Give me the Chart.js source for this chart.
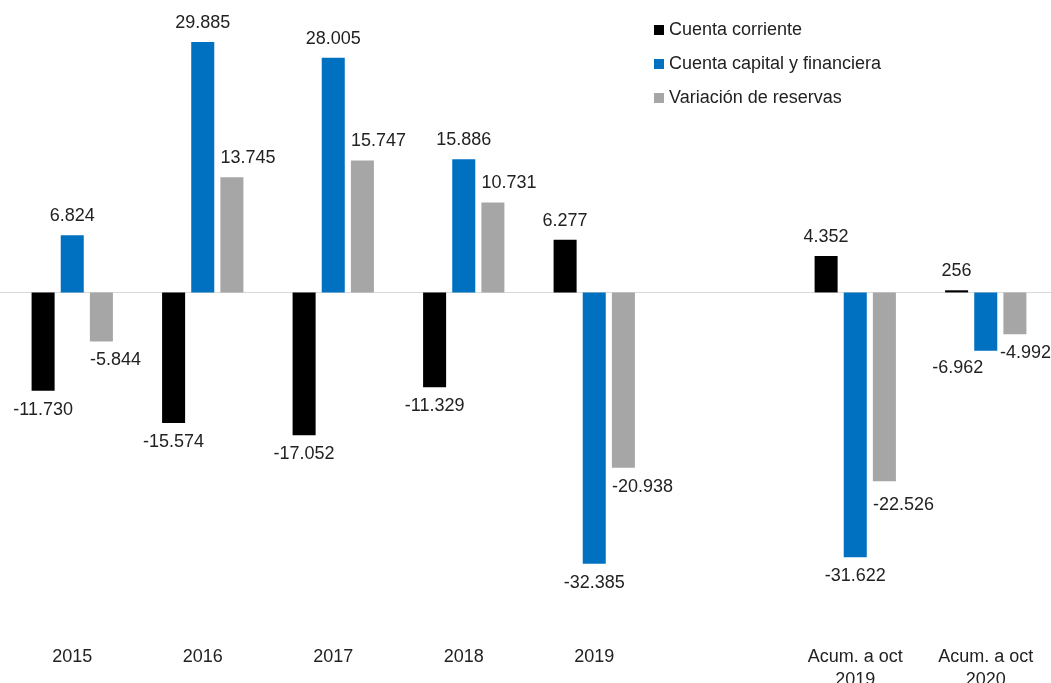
<!DOCTYPE html>
<html>
<head>
<meta charset="utf-8">
<script src="https://cdn.jsdelivr.net/npm/chart.js@4.4.0/dist/chart.umd.min.js"></script>
<style>
  html, body { margin: 0; padding: 0; background: #ffffff; overflow: hidden; }
  #c { position: absolute; left: 0; top: 0; width: 1051px; height: 701px; }
</style>
</head>
<body>
<canvas id="c" width="1051" height="701"></canvas>
<script>
const categories = ['2015', '2016', '2017', '2018', '2019', '', ['Acum. a oct', '2019'], ['Acum. a oct', '2020']];
const cuentaCorriente = [-11730, -15574, -17052, -11329, 6277, null, 4352, 256];
const cuentaCapital   = [6824, 29885, 28005, 15886, -32385, null, -31622, -6962];
const variacionReservas = [-5844, 13745, 15747, 10731, -20938, null, -22526, -4992];
const seriesNames = ['Cuenta corriente', 'Cuenta capital y financiera', 'Variación de reservas'];

const COLORS = ['#000000', '#0070c0', '#a6a6a6'];
const TEXT = '#222222';
const FONT = '"Liberation Sans", Arial, sans-serif';

function fmt(v) {
  const s = Math.abs(v).toString().replace(/\B(?=(\d{3})+(?!\d))/g, '.');
  return (v < 0 ? '-' : '') + s;
}

// label nudges for a few crowded labels (dataset index, category index) -> [dx, dy]
const labelNudge = { '1-7': [-28, -2], '2-6': [0, 5] };

const zeroLine = {
  id: 'zeroLine',
  beforeDatasetsDraw(chart) {
    const y = Math.round(chart.scales.y.getPixelForValue(0)) + 0.5;
    const ctx = chart.ctx;
    ctx.save();
    ctx.strokeStyle = '#d9d9d9';
    ctx.lineWidth = 1;
    ctx.beginPath();
    ctx.moveTo(0, y);
    ctx.lineTo(chart.width, y);
    ctx.stroke();
    ctx.restore();
  }
};

const valueLabels = {
  id: 'valueLabels',
  afterDatasetsDraw(chart) {
    const ctx = chart.ctx;
    ctx.save();
    ctx.font = '18px ' + FONT;
    ctx.fillStyle = TEXT;
    ctx.textBaseline = 'middle';
    chart.data.datasets.forEach((ds, di) => {
      const meta = chart.getDatasetMeta(di);
      meta.data.forEach((bar, i) => {
        const v = ds.data[i];
        if (v === null || v === undefined) return;
        const txt = fmt(v);
        const w = ctx.measureText(txt).width;
        let y = v >= 0 ? bar.y - 19 : bar.y + 19;
        let x;
        if (di === 2) {
          x = bar.x - bar.width / 2;
        } else {
          x = bar.x - w / 2;
        }
        const n = labelNudge[di + '-' + i];
        if (n) { x += n[0]; y += n[1]; }
        if (x + w > chart.width) x = chart.width - w;
        ctx.textAlign = 'left';
        ctx.fillText(txt, x, y);
      });
    });
    ctx.restore();
  }
};

const customLegend = {
  id: 'customLegend',
  afterDraw(chart) {
    const ctx = chart.ctx;
    ctx.save();
    ctx.font = '18px ' + FONT;
    ctx.textBaseline = 'middle';
    ctx.textAlign = 'left';
    const x0 = 654, y0 = 30, step = 34;
    seriesNames.forEach((name, i) => {
      const y = y0 + i * step;
      ctx.fillStyle = COLORS[i];
      ctx.fillRect(x0, y - 5, 10, 10);
      ctx.fillStyle = TEXT;
      ctx.fillText(name, x0 + 15, y);
    });
    ctx.restore();
  }
};

new Chart(document.getElementById('c'), {
  type: 'bar',
  data: {
    labels: categories,
    datasets: [
      { label: seriesNames[0], data: cuentaCorriente, backgroundColor: COLORS[0] },
      { label: seriesNames[1], data: cuentaCapital, backgroundColor: COLORS[1] },
      { label: seriesNames[2], data: variacionReservas, backgroundColor: COLORS[2] }
    ]
  },
  options: {
    responsive: false,
    maintainAspectRatio: false,
    devicePixelRatio: 1,
    animation: false,
    categoryPercentage: 0.67,
    barPercentage: 0.79,
    layout: { padding: { left: 7, right: 0, top: 0, bottom: 0 } },
    plugins: {
      legend: { display: false },
      tooltip: { enabled: false },
      title: { display: false }
    },
    scales: {
      x: {
        grid: { display: false, drawTicks: false },
        border: { display: false },
        ticks: {
          color: TEXT,
          font: { family: FONT, size: 18, lineHeight: 1.28 },
          padding: 9,
          autoSkip: false,
          maxRotation: 0,
          minRotation: 0
        }
      },
      y: {
        display: false,
        min: -41120,
        max: 34906
      }
    }
  },
  plugins: [zeroLine, valueLabels, customLegend]
});
</script>
</body>
</html>
